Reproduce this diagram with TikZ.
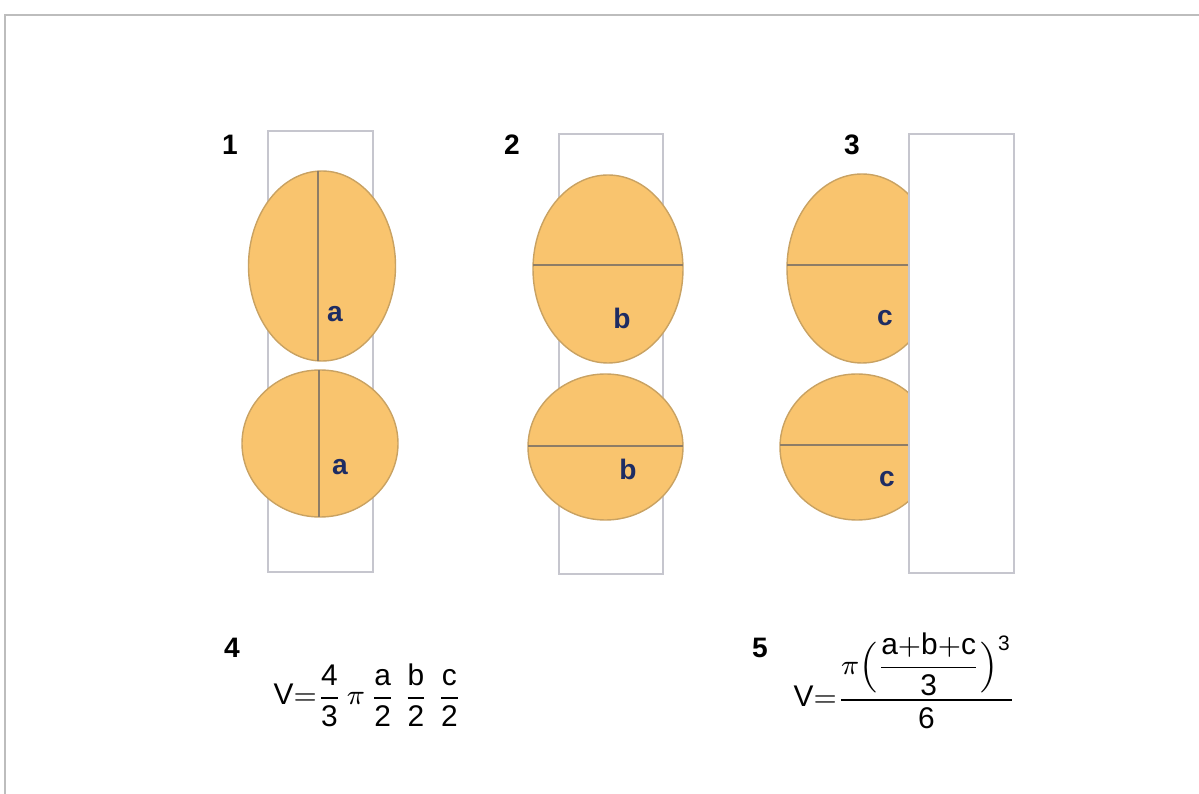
\documentclass[tikz,border=0pt]{standalone}
\usepackage{amsmath}
\usepackage{fontspec}
\setmainfont{Liberation Sans}
\usetikzlibrary{positioning}
\definecolor{yolk}{HTML}{F9C46E}
\definecolor{shell}{HTML}{C9A262}
\definecolor{cutline}{HTML}{8E7D66}
\definecolor{navy}{HTML}{1E2C63}
\definecolor{pane}{HTML}{C6C6CE}
\definecolor{edgegray}{HTML}{BDBDBD}

\begin{document}
\begin{tikzpicture}[x=0.01cm,y=-0.01cm,
  egg/.style={fill=yolk,draw=shell,line width=0.4pt},
  cut/.style={draw=cutline,line width=0.6pt},
  tube/.style={draw=pane,line width=0.5pt},
  num/.style={font=\fontsize{8}{10}\selectfont\bfseries,inner sep=0pt},
  axlbl/.style={num,text=navy},
  formula/.style={anchor=base west,inner sep=0pt,font=\fontsize{8.5}{10}\selectfont}]
\useasboundingbox (0,0) rectangle (1199,794);
\draw[edgegray,line width=0.6pt] (5,794) -- (5,15) -- (1199,15);
% 1: cut along a
\draw[tube] (268,131) rectangle (373,572);
\draw[egg] (322,266) ellipse [x radius=73.5,y radius=95];
\draw[egg] (320,443.5) ellipse [x radius=78,y radius=73.5];
\draw[cut] (318,171) -- (318,361) (319,370) -- (319,517);
% 2: cut along b
\draw[tube] (559,134) rectangle (663,574);
\draw[egg] (608,269) ellipse [x radius=75,y radius=94];
\draw[egg] (605.5,447) ellipse [x radius=77.5,y radius=73];
\draw[cut] (533,265) -- (683,265) (528,446) -- (683,446);
% 3: c against the wall
\draw[egg] (862,268.5) ellipse [x radius=75,y radius=94.5];
\draw[egg] (857,447) ellipse [x radius=77,y radius=73];
\draw[cut] (787,265) -- (909,265) (780,445) -- (909,445);
\draw[tube,fill=white] (909,134) rectangle (1014,573);
% labels
\foreach \t/\x/\y in {1/230/145,2/512/145,3/852/145,4/232/648,5/760/648}
  \node[num] (n\t) at (\x,\y) {\t};
\foreach \t/\s/\x/\y in {a/1/335/314,a/2/340/467,b/1/622/318,b/2/628/469,c/1/885/318,c/2/887/479}
  \node[axlbl] (\t\s) at (\x,\y) {\t};
\node[formula] (f4) at (273,705)
  {$\displaystyle \mathrm{V}{=}\frac{\mathrm{4}}{\mathrm{3}}\,\pi\,\frac{\mathrm{a}}{\mathrm{2}}\;\frac{\mathrm{b}}{\mathrm{2}}\;\frac{\mathrm{c}}{\mathrm{2}}$};
\node[formula] (f5) at (793,707)
  {$\displaystyle \mathrm{V}{=}\frac{\pi\Bigl(\dfrac{\mathrm{a}{+}\mathrm{b}{+}\mathrm{c}}{\mathrm{3}}\Bigr)^{\mathrm{3}}}{\mathrm{6}}$};
\end{tikzpicture}
\end{document}
